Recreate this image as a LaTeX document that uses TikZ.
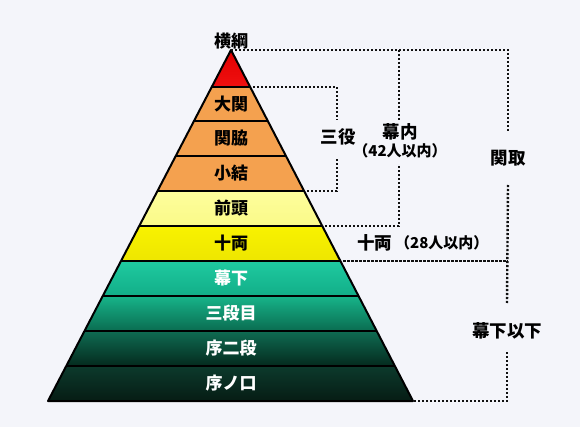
\documentclass[tikz,border=0pt]{standalone}
\usepackage{fontspec}
\newfontfamily\jp{Noto Sans CJK JP}
\usetikzlibrary{calc}
\definecolor{bg}{HTML}{F4F5FA}
\definecolor{redtop}{HTML}{E00000}
\definecolor{redbot}{HTML}{F01010}
\definecolor{orng}{HTML}{F4A14F}
\definecolor{ltyel}{HTML}{FEFE9C}
\definecolor{ltyelb}{HTML}{FAFA88}
\definecolor{yel}{HTML}{F8F200}
\definecolor{yelb}{HTML}{EEE600}
\definecolor{gA}{HTML}{1FCAA0}
\definecolor{gAb}{HTML}{12AE88}
\definecolor{gB}{HTML}{17B48A}
\definecolor{gBb}{HTML}{0A6C50}
\definecolor{gC}{HTML}{0F6C52}
\definecolor{gCb}{HTML}{042A1E}
\definecolor{gD}{HTML}{0C3A2C}
\definecolor{gDb}{HTML}{061C14}
\definecolor{dotc}{HTML}{111111}
\tikzset{
  dots/.style={dotc,line width=2.4pt,dash pattern=on 2.1pt off 1.9pt},
  bandlbl/.style={font=\jp\bfseries\fontsize{17}{19}\selectfont,inner sep=0pt},
  sidelbl/.style={font=\jp\bfseries\fontsize{17.5}{19}\selectfont,inner sep=0pt,text=black},
  smalllbl/.style={font=\jp\bfseries\fontsize{15}{17}\selectfont,inner sep=0pt,text=black}
}
\newcommand\lx[1]{231-(#1-50)*0.52137}
\newcommand\rx[1]{231+(#1-50)*0.51852}
\newcommand\band[4]{%
  \pgfmathsetmacro\xa{\lx{#1}}\pgfmathsetmacro\xb{\rx{#1}}%
  \pgfmathsetmacro\xc{\rx{#2}}\pgfmathsetmacro\xd{\lx{#2}}%
  \shade[top color=#3,bottom color=#4] (\xa,#1) -- (\xb,#1) -- (\xc,#2) -- (\xd,#2) -- cycle;}
\begin{document}
\begin{tikzpicture}[x=1pt,y=-1pt]
\path[fill=bg] (0,0) rectangle (580,427);
\useasboundingbox (0,0) rectangle (580,427);
\coordinate (A) at (231,50);
\coordinate (BL) at (48,401);
\coordinate (BR) at (413,401);
% bands
\pgfmathsetmacro\xd{\lx{87}}\pgfmathsetmacro\xc{\rx{87}}
\shade[top color=redtop,bottom color=redbot] (A) -- (\xc,87) -- (\xd,87) -- cycle;
\band{87}{121}{orng}{orng}
\band{121}{156}{orng}{orng}
\band{156}{191}{orng}{orng}
\band{191}{226}{ltyel}{ltyelb}
\band{226}{261}{yel}{yelb}
\band{261}{296}{gA}{gAb}
\band{296}{331}{gB}{gBb}
\band{331}{366}{gC}{gCb}
\band{366}{401}{gD}{gDb}
% dividers
\foreach \yy in {87,121,156,191,226,261,296,331,366}{
  \pgfmathsetmacro\xa{\lx{\yy}}\pgfmathsetmacro\xb{\rx{\yy}}
  \draw[line width=2pt] (\xa,\yy) -- (\xb,\yy);
}
\draw[line width=2pt,line join=round] (A) -- (BR) -- (BL) -- cycle;
% edge points
\foreach \yy in {87,191,226,261}{
  \pgfmathsetmacro\xb{\rx{\yy}+3}
  \coordinate (e\yy) at (\xb,\yy);
}
% band labels
\node[bandlbl] (yokozuna) at (231,41) {横綱};
\node[bandlbl] (ozeki) at (231,104) {大関};
\node[bandlbl] (sekiwake) at (231,138.5) {関脇};
\node[bandlbl] (komusubi) at (231,173.5) {小結};
\node[bandlbl] (maegashira) at (231,208.5) {前頭};
\node[bandlbl] (juryo) at (231,243.5) {十両};
\node[bandlbl,text=white] (makushita) at (231,278.5) {幕下};
\node[bandlbl,text=white] (sandanme) at (231,313.5) {三段目};
\node[bandlbl,text=white] (jonidan) at (231,348.5) {序二段};
\node[bandlbl,text=white] (jonokuchi) at (231,383.5) {序ノ口};
% side labels
\node[sidelbl] (sanyaku) at (338,137) {三役};
\node[sidelbl] (makuuchi) at (400,132) {幕内};
\node[smalllbl] (makuuchinum) at (400,151) {（42人以内）};
\node[sidelbl] (sekitori) at (508,158) {関取};
\node[sidelbl,anchor=west] (juryolbl) at (357,243) {十両};
\node[smalllbl,anchor=west] (juryonum) at (395,243) {（28人以内）};
\node[sidelbl] (makushitaika) at (507,331) {幕下以下};
% brackets
\coordinate (topR) at (508,50);
\coordinate (mkTop) at (399,50);
\coordinate (j261) at (508,261);
\draw[dots] (A) -- (topR) -- ($(sekitori)+(0,-26)$);
\draw[dots] ($(sekitori)+(0,27)$) -- ($(makushitaika)+(0,-28)$);
\draw[dots] (e261) -- (j261);
\draw[dots] ($(makushitaika)+(0,21)$) |- (BR);
\draw[dots] (mkTop) -- ($(makuuchi)+(-1,-12)$);
\draw[dots] (e226) -| ($(makuuchinum)+(-1,14)$);
\draw[dots] (e87) -| ($(sanyaku)+(-1,-17)$);
\draw[dots] (e191) -| ($(sanyaku)+(-1,21)$);
\end{tikzpicture}
\end{document}
